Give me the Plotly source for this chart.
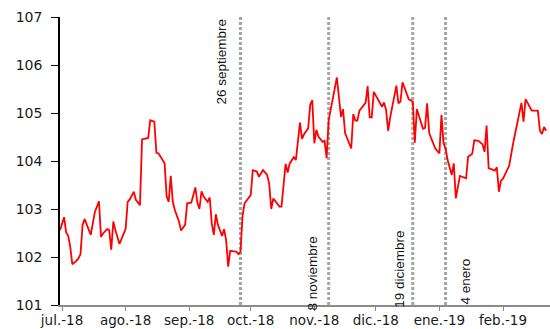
import plotly.graph_objects as go

# Daily index level, Jul 2018 - Feb 2019
dates = [
    "2018-06-30", "2018-07-02", "2018-07-03", "2018-07-04", "2018-07-05", "2018-07-06",
    "2018-07-08", "2018-07-09", "2018-07-10", "2018-07-11", "2018-07-12", "2018-07-13",
    "2018-07-14", "2018-07-15", "2018-07-17", "2018-07-19", "2018-07-20", "2018-07-21",
    "2018-07-23", "2018-07-24", "2018-07-25", "2018-07-26", "2018-07-27", "2018-07-28",
    "2018-07-29", "2018-08-01", "2018-08-02", "2018-08-03", "2018-08-04", "2018-08-05",
    "2018-08-06", "2018-08-08", "2018-08-09", "2018-08-12", "2018-08-13", "2018-08-15",
    "2018-08-16", "2018-08-17", "2018-08-20", "2018-08-21", "2018-08-22", "2018-08-23",
    "2018-08-24", "2018-08-25", "2018-08-27", "2018-08-28", "2018-08-30", "2018-08-31",
    "2018-09-02", "2018-09-04", "2018-09-05", "2018-09-06", "2018-09-07", "2018-09-08",
    "2018-09-10", "2018-09-11", "2018-09-12", "2018-09-13", "2018-09-14", "2018-09-15",
    "2018-09-17", "2018-09-18", "2018-09-19", "2018-09-20", "2018-09-21", "2018-09-24",
    "2018-09-25", "2018-09-26", "2018-09-27", "2018-09-28", "2018-10-01", "2018-10-02",
    "2018-10-04", "2018-10-05", "2018-10-07", "2018-10-09", "2018-10-10", "2018-10-11",
    "2018-10-12", "2018-10-15", "2018-10-16", "2018-10-18", "2018-10-19", "2018-10-20",
    "2018-10-22", "2018-10-23", "2018-10-25", "2018-10-26", "2018-10-27", "2018-10-29",
    "2018-10-30", "2018-10-31", "2018-11-01", "2018-11-02", "2018-11-03", "2018-11-05",
    "2018-11-06", "2018-11-07", "2018-11-08", "2018-11-10", "2018-11-12", "2018-11-14",
    "2018-11-15", "2018-11-16", "2018-11-18", "2018-11-19", "2018-11-20", "2018-11-21",
    "2018-11-22", "2018-11-23", "2018-11-26", "2018-11-27", "2018-11-28", "2018-11-29",
    "2018-11-30", "2018-12-04", "2018-12-05", "2018-12-06", "2018-12-07", "2018-12-08",
    "2018-12-11", "2018-12-12", "2018-12-13", "2018-12-14", "2018-12-17", "2018-12-19",
    "2018-12-20", "2018-12-21", "2018-12-24", "2018-12-25", "2018-12-26", "2018-12-27",
    "2018-12-28", "2018-12-30", "2019-01-01", "2019-01-02", "2019-01-03", "2019-01-04",
    "2019-01-05", "2019-01-07", "2019-01-08", "2019-01-09", "2019-01-11", "2019-01-14",
    "2019-01-15", "2019-01-17", "2019-01-18", "2019-01-20", "2019-01-22", "2019-01-23",
    "2019-01-24", "2019-01-25", "2019-01-28", "2019-01-29", "2019-01-30", "2019-01-31",
    "2019-02-01", "2019-02-04", "2019-02-06", "2019-02-10", "2019-02-11", "2019-02-12",
    "2019-02-15", "2019-02-18", "2019-02-19", "2019-02-20", "2019-02-21", "2019-02-22",
]

values = [
    102.56, 102.83, 102.51, 102.44, 102.21, 101.85,
    101.92, 101.97, 102.06, 102.67, 102.79, 102.67,
    102.55, 102.46, 102.94, 103.16, 102.42, 102.49,
    102.58, 102.56, 102.15, 102.74, 102.56, 102.40,
    102.27, 102.59, 103.15, 103.20, 103.29, 103.36,
    103.19, 103.08, 104.45, 104.48, 104.85, 104.82,
    104.17, 104.16, 103.95, 103.26, 103.15, 103.69,
    103.15, 102.98, 102.74, 102.55, 102.67, 103.12,
    103.13, 103.45, 103.13, 103.00, 103.37, 103.26,
    103.15, 103.24, 102.70, 102.46, 102.89, 102.67,
    102.44, 102.58, 102.35, 101.80, 102.13, 102.11,
    102.06, 102.11, 102.85, 103.12, 103.29, 103.81,
    103.78, 103.67, 103.81, 103.71, 103.53, 103.00,
    103.22, 103.05, 103.05, 103.94, 103.76, 103.95,
    104.08, 104.02, 104.80, 104.46, 104.56, 104.68,
    105.17, 105.27, 104.37, 104.65, 104.51, 104.40,
    104.42, 104.06, 104.85, 105.29, 105.74, 104.92,
    105.08, 104.58, 104.35, 104.26, 104.98, 104.84,
    104.84, 105.05, 105.21, 105.56, 104.91, 104.91,
    105.44, 105.13, 105.22, 105.06, 104.63, 104.91,
    105.57, 105.20, 105.24, 105.64, 105.29, 105.24,
    104.38, 105.08, 104.67, 104.69, 105.20, 104.59,
    104.47, 104.26, 104.16, 104.96, 104.37, 104.26,
    104.02, 103.71, 103.95, 103.22, 103.69, 103.64,
    104.09, 104.15, 104.43, 104.42, 104.35, 104.19,
    104.74, 103.85, 103.80, 103.87, 103.36, 103.59,
    103.63, 103.90, 104.38, 105.21, 104.82, 105.29,
    105.05, 105.05, 104.63, 104.56, 104.71, 104.63,
]

# Month ticks on the date axis
month_ticks = ["2018-07-01", "2018-08-01", "2018-09-01", "2018-10-01",
               "2018-11-01", "2018-12-01", "2019-01-01", "2019-02-01"]
month_labels = ["jul.-18", "ago.-18", "sep.-18", "oct.-18",
                "nov.-18", "dic.-18", "ene.-19", "feb.-19"]

# Marked events
event_dates = ["2018-09-26", "2018-11-08", "2018-12-19", "2019-01-04"]
event_labels = ["26 septiembre", "8 noviembre", "19 diciembre", "4 enero"]
event_label_y = [0.847, 0.108, 0.125, 0.08]
event_label_shift = [-19, -16, -14, 20]

fig = go.Figure()

fig.add_trace(go.Scatter(
    x=dates, y=values, mode="lines",
    line=dict(color="#ff0000", width=1.8),
    showlegend=False, hoverinfo="skip",
))

for d, lab, ly, sh in zip(event_dates, event_labels, event_label_y, event_label_shift):
    fig.add_shape(
        type="line", xref="x", yref="paper",
        x0=d, x1=d, y0=0, y1=1,
        line=dict(color="#a6a6a6", width=3, dash="3px,2px"),
        layer="below",
    )
    fig.add_annotation(
        x=d, xref="x", y=ly, yref="paper",
        text=lab, textangle=-90, showarrow=False,
        xshift=sh, xanchor="center", yanchor="middle",
        font=dict(family="Liberation Sans", size=13.5, color="#111111"),
    )

fig.update_layout(
    width=550, height=329,
    margin=dict(l=60, r=0, t=17, b=24),
    paper_bgcolor="white", plot_bgcolor="white",
    showlegend=False,
)

fig.update_xaxes(
    type="date", automargin=False,
    range=["2018-06-30", "2019-02-23 22:00"],
    tickmode="array", tickvals=month_ticks, ticktext=month_labels,
    showgrid=False, zeroline=False,
    showline=True, linecolor="#8c8c8c", linewidth=1.5,
    ticks="outside", ticklen=4, tickcolor="#8c8c8c", tickwidth=1,
    ticklabelstandoff=-2,
    tickfont=dict(family="DejaVu Sans", size=13.5, color="#1a1a1a"),
)

fig.update_yaxes(
    automargin=False,
    range=[101, 107],
    tickmode="array", tickvals=[101, 102, 103, 104, 105, 106, 107],
    showgrid=False, zeroline=False,
    showline=True, linecolor="#000000", linewidth=1.5,
    ticks="outside", ticklen=7, tickcolor="#000000", tickwidth=1,
    ticklabelstandoff=6,
    tickfont=dict(family="DejaVu Sans", size=14, color="#1a1a1a"),
)

fig.write_html("out.html")
